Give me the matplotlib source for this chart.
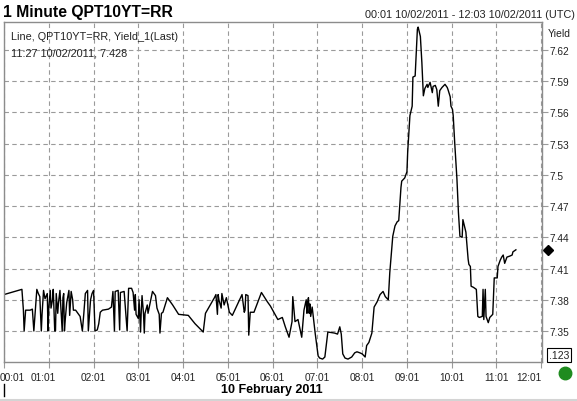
import matplotlib
matplotlib.use("Agg")
import matplotlib.pyplot as plt
from matplotlib.lines import Line2D
from matplotlib.transforms import ScaledTranslation, blended_transform_factory

plt.rcParams['font.family'] = ['Liberation Sans', 'DejaVu Sans']

# 1 minute yield, minutes since midnight 10/02/2011
minutes = [1, 25, 27, 28, 30, 36, 39, 41, 43, 45, 47, 49, 51, 52, 54, 56, 59,
           60, 61, 63, 64, 66, 67, 69, 70, 71, 73, 74, 76, 77, 79, 80, 81, 82,
           83, 85, 88, 89, 90, 91, 93, 94, 97, 100, 103, 106, 108, 110, 113,
           114, 117, 119, 121, 123, 126, 128, 130, 133, 141, 145, 147, 149,
           150, 154, 156, 157, 162, 165, 166, 168, 172, 174, 176, 177, 178,
           181, 182, 184, 185, 186, 188, 189, 190, 193, 194, 200, 204, 206,
           209, 210, 212, 214, 220, 227, 235, 248, 257, 268, 271, 283, 285,
           287, 288, 289, 292, 293, 296, 299, 303, 307, 320, 323, 324, 325,
           328, 329, 331, 336, 346, 354, 358, 368, 374, 378, 383, 387, 388,
           391, 395, 400, 403, 406, 407, 408, 409, 410, 411, 412, 414, 418,
           422, 424, 428, 431, 435, 444, 448, 451, 453, 455, 458, 462, 467,
           471, 474, 478, 481, 485, 487, 490, 494, 497, 501, 505, 509, 512,
           516, 518, 522, 525, 528, 530, 533, 534, 538, 541, 542, 545, 548,
           549, 552, 555, 556, 559, 561, 563, 565, 568, 569, 572, 575, 576,
           579, 581, 583, 585, 588, 592, 595, 596, 599, 600, 602, 603, 605,
           608, 610, 612, 615, 616, 617, 620, 623, 624, 626, 627, 630, 634,
           636, 638, 642, 643, 644, 646, 647, 650, 652, 656, 658, 662, 663,
           666, 668, 670, 672, 675, 679, 682, 683, 687]
yields = [7.385, 7.390, 7.370, 7.350, 7.370, 7.370, 7.371, 7.350, 7.370, 7.390,
          7.386, 7.383, 7.350, 7.366, 7.389, 7.381, 7.386,
          7.350, 7.372, 7.389, 7.372, 7.380, 7.390, 7.350, 7.350, 7.386,
          7.367, 7.377, 7.389, 7.375, 7.350, 7.382, 7.386, 7.350,
          7.360, 7.377, 7.389, 7.365, 7.376, 7.388, 7.380, 7.370, 7.370,
          7.367, 7.364, 7.350, 7.367, 7.386, 7.389,
          7.350, 7.380, 7.386, 7.389, 7.350, 7.351, 7.357, 7.368, 7.370,
          7.371, 7.373, 7.388, 7.350,
          7.388, 7.389, 7.351, 7.387, 7.388, 7.360, 7.350, 7.391, 7.391,
          7.387, 7.370, 7.385, 7.366,
          7.362, 7.380, 7.349, 7.370, 7.384, 7.366, 7.348, 7.367, 7.375,
          7.367, 7.388, 7.384, 7.372,
          7.366, 7.348, 7.367, 7.368, 7.382, 7.375, 7.366, 7.365, 7.357,
          7.349, 7.367, 7.382, 7.385,
          7.366, 7.385, 7.380, 7.372, 7.386, 7.375, 7.382, 7.368, 7.365,
          7.385, 7.368, 7.370, 7.385,
          7.384, 7.346, 7.368, 7.368, 7.387, 7.378, 7.374, 7.361, 7.363,
          7.354, 7.344, 7.359, 7.383,
          7.359, 7.361, 7.344, 7.370, 7.380, 7.367, 7.378, 7.382, 7.367,
          7.376, 7.364, 7.373, 7.348,
          7.326, 7.324, 7.323, 7.325, 7.349, 7.348, 7.347, 7.354, 7.347,
          7.328, 7.324, 7.323, 7.325,
          7.329, 7.330, 7.329, 7.328, 7.325, 7.336, 7.339, 7.348, 7.373,
          7.378, 7.385, 7.388, 7.383,
          7.380, 7.406, 7.441, 7.451, 7.455, 7.456, 7.488, 7.494, 7.497,
          7.503, 7.522, 7.557, 7.566,
          7.594, 7.595, 7.640, 7.642, 7.633, 7.608, 7.576, 7.583, 7.587,
          7.584, 7.589, 7.579, 7.585,
          7.586, 7.582, 7.566, 7.581, 7.584, 7.587, 7.584, 7.582, 7.575,
          7.566, 7.563, 7.557, 7.531,
          7.496, 7.464, 7.441, 7.440, 7.457, 7.454, 7.445, 7.419, 7.414,
          7.412, 7.393, 7.392, 7.390,
          7.364, 7.363, 7.364, 7.390, 7.361, 7.390, 7.364, 7.358, 7.363,
          7.366, 7.401, 7.401, 7.412,
          7.418, 7.421, 7.423, 7.415, 7.421, 7.422, 7.423, 7.426, 7.428]

hour_ticks = [1, 61, 121, 181, 241, 301, 361, 421, 481, 541, 601, 661, 721]
hour_labels = ["00:01", "01:01", "02:01", "03:01", "04:01", "05:01", "06:01",
               "07:01", "08:01", "09:01", "10:01", "11:01", "12:01"]
yield_ticks = [7.35, 7.38, 7.41, 7.44, 7.47, 7.5, 7.53, 7.56, 7.59, 7.62]
yield_labels = ["7.35", "7.38", "7.41", "7.44", "7.47", "7.5", "7.53", "7.56",
                "7.59", "7.62"]
last_value = 7.428

W, H = 577, 402
fig = plt.figure(figsize=(W / 100, H / 100), dpi=100)
fig.patch.set_facecolor("white")

# plot box: x 4..542, y 23..363 in pixels
ax = fig.add_axes([4 / W, 1 - 363 / H, 538 / W, 340 / H])
ax.plot(minutes, yields, color="black", lw=1.0)
ax.set_xlim(1, 722)
ax.set_ylim(7.3202, 7.6469)

grid_col = "#9a9a9a"
ax.set_xticks(hour_ticks)
ax.set_xticklabels(hour_labels)
ax.set_yticks(yield_ticks)
ax.set_yticklabels(yield_labels)
ax.yaxis.tick_right()
ax.grid(True, color=grid_col, linestyle=(0, (4, 3)), lw=0.8)
ax.tick_params(axis="both", direction="out", length=4, color=grid_col,
               labelsize=7.3, labelcolor="#222222", pad=1.5)
ax.tick_params(axis="x", pad=3)
for s in ax.spines.values():
    s.set_color("#8c8c8c")
    s.set_linewidth(1.0)

labs = ax.get_xticklabels()
labs[0].set_ha("left")
labs[0].set_transform(labs[0].get_transform() + ScaledTranslation(-4 / 100, 0, fig.dpi_scale_trans))
labs[1].set_transform(labs[1].get_transform() + ScaledTranslation(-6 / 100, 0, fig.dpi_scale_trans))
labs[-1].set_ha("right")

# last value marker on the yield axis
tr = blended_transform_factory(ax.transAxes, ax.transData)
ax.plot([(548 - 4) / 538], [last_value], marker="D", ms=5.5, color="black",
        transform=tr, clip_on=False)
# status dot
ax.plot([(565 - 4) / 538], [(363 - 374) / 340], marker="o", ms=9,
        color="#1f8b1f", transform=ax.transAxes, clip_on=False)

def fx(px):
    return px / W

def fy(py):
    return 1 - py / H

fig.text(fx(3), fy(13), "1 Minute QPT10YT=RR", fontsize=11.3,
         fontweight="bold", va="center")
fig.text(fx(575), fy(15), "00:01 10/02/2011 - 12:03 10/02/2011 (UTC)",
         fontsize=7.8, ha="right", va="center", color="#222222")
fig.text(fx(11), fy(37), "Line, QPT10YT=RR, Yield_1(Last)", fontsize=7.8,
         va="center", color="#222222")
fig.text(fx(11), fy(53), "11:27 10/02/2011, 7.428", fontsize=7.8,
         va="center", color="#222222")
fig.text(fx(548), fy(34), "Yield", fontsize=7.5, va="center", color="#222222")
fig.text(fx(549), fy(356), ".123", fontsize=7.5, va="center", color="#222222",
         bbox=dict(boxstyle="square,pad=0.15", fc="white", ec="black", lw=0.8))
fig.text(fx(272), fy(390), "10 February 2011", fontsize=9, fontweight="bold",
         ha="center", va="center")

fig.add_artist(Line2D([fx(4), fx(4)], [fy(385), fy(397)], color="black", lw=1))
fig.add_artist(Line2D([0, 1], [fy(401), fy(401)], color="#d4d4d4", lw=1.5))

fig.savefig("out.png", dpi=100)
